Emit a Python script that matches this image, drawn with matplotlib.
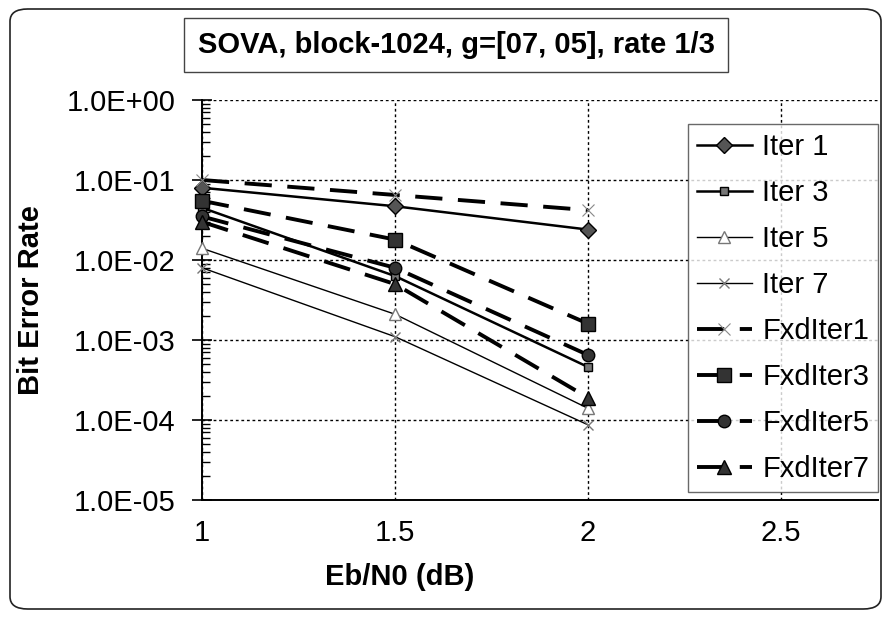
import matplotlib
matplotlib.use("Agg")
import matplotlib.pyplot as plt
from matplotlib.patches import FancyBboxPatch

plt.rcParams['font.family'] = ['Liberation Sans', 'DejaVu Sans']

ebn0 = [1.0, 1.5, 2.0]
iter1 = [8.0e-2, 4.7e-2, 2.4e-2]
iter3 = [4.5e-2, 6.3e-3, 4.6e-4]
iter5 = [1.4e-2, 2.1e-3, 1.4e-4]
iter7 = [8.0e-3, 1.1e-3, 8.7e-5]
fxd1 = [1.0e-1, 6.5e-2, 4.2e-2]
fxd3 = [5.5e-2, 1.8e-2, 1.6e-3]
fxd5 = [3.5e-2, 8.0e-3, 6.5e-4]
fxd7 = [3.0e-2, 5.0e-3, 1.9e-4]

labels = ["Iter 1", "Iter 3", "Iter 5", "Iter 7",
          "FxdIter1", "FxdIter3", "FxdIter5", "FxdIter7"]
xticks = [1, 1.5, 2, 2.5]
xtick_labels = ["1", "1.5", "2", "2.5"]
yticks = [1e0, 1e-1, 1e-2, 1e-3, 1e-4, 1e-5]
ytick_labels = ["1.0E+00", "1.0E-01", "1.0E-02", "1.0E-03", "1.0E-04", "1.0E-05"]

W, H = 887, 617
fig = plt.figure(figsize=(W / 100, H / 100), dpi=100)

# chart-area border
fig.patches.append(FancyBboxPatch((10 / W, 8 / H), 871 / W, 600 / H,
                                  boxstyle="round,pad=0,rounding_size=0.02",
                                  transform=fig.transFigure, fill=False,
                                  edgecolor="#222222", linewidth=1.2))

top_px, bot_px, left_px, right_px = 100, 500, 202, 878
ax = fig.add_axes([left_px / W, 1 - bot_px / H, (right_px - left_px) / W, (bot_px - top_px) / H])

dash = (0, (7, 4))
styles = [
    (iter1, dict(ls='-', lw=1.8, marker='D', ms=8, mfc='#555555', mec='black')),
    (iter3, dict(ls='-', lw=1.8, marker='s', ms=6, mfc='#777777', mec='black')),
    (iter5, dict(ls='-', lw=1.0, marker='^', ms=9, mfc='white', mec='#777777')),
    (iter7, dict(ls='-', lw=1.0, marker='x', ms=7, mfc='white', mec='#777777')),
    (fxd1, dict(ls=dash, lw=2.8, marker='x', ms=9, mec='#888888', mew=0.8)),
    (fxd3, dict(ls=dash, lw=2.8, marker='s', ms=10, mfc='#333333', mec='black')),
    (fxd5, dict(ls=dash, lw=2.8, marker='o', ms=9, mfc='#333333', mec='black')),
    (fxd7, dict(ls=dash, lw=2.8, marker='^', ms=10, mfc='#333333', mec='black')),
]
handles = []
for (vals, st), lab in zip(styles, labels):
    h, = ax.plot(ebn0, vals, color='black', label=lab, clip_on=False, zorder=3, **st)
    handles.append(h)

ax.set_yscale('log')
ax.set_ylim(1e-5, 1e0)
ax.set_xlim(1, 1 + (right_px - left_px) / 386.0)
ax.set_xticks(xticks)
ax.set_xticklabels(xtick_labels)
ax.set_yticks(yticks)
ax.set_yticklabels(ytick_labels)
ax.tick_params(axis='both', labelsize=21, colors='black')
ax.tick_params(axis='y', which='major', direction='inout', length=14, width=1.2, pad=12)
ax.tick_params(axis='y', which='minor', direction='in', length=6, width=1.0)
ax.tick_params(axis='x', which='major', length=0, pad=14)
ax.grid(True, which='major', axis='both', ls=(0, (2, 2)), color='black', lw=1.0)
for s in ['top', 'right']:
    ax.spines[s].set_visible(False)
ax.spines['left'].set_linewidth(1.4)
ax.spines['bottom'].set_linewidth(1.4)
ax.set_axisbelow(True)

ax.set_ylabel("Bit Error Rate", fontsize=21, fontweight='bold', va='center')
ax.yaxis.set_label_coords((31 - left_px) / (right_px - left_px), 0.5)
ax.set_xlabel("Eb/N0 (dB)", fontsize=21, fontweight='bold', va='center')
ax.xaxis.set_label_coords((400 - left_px) / (right_px - left_px), -(577 - bot_px) / (bot_px - top_px))

# title with box
fig.text(456 / W, 1 - 45 / H, "SOVA, block-1024, g=[07, 05], rate 1/3",
         ha='center', va='center', fontsize=21, fontweight='bold',
         bbox=dict(boxstyle='square,pad=0.45', fc='white', ec='#444444', lw=1.0))

leg = fig.legend(handles=handles, labels=labels, loc='upper left',
                 bbox_to_anchor=(688 / W, 1 - 124 / H), fontsize=21,
                 frameon=True, fancybox=False, edgecolor='#444444',
                 handlelength=1.9, handletextpad=0.35, labelspacing=0.62,
                 borderpad=0.3, borderaxespad=0)
leg.get_frame().set_linewidth(1.0)

fig.savefig("out.png", dpi=100)
